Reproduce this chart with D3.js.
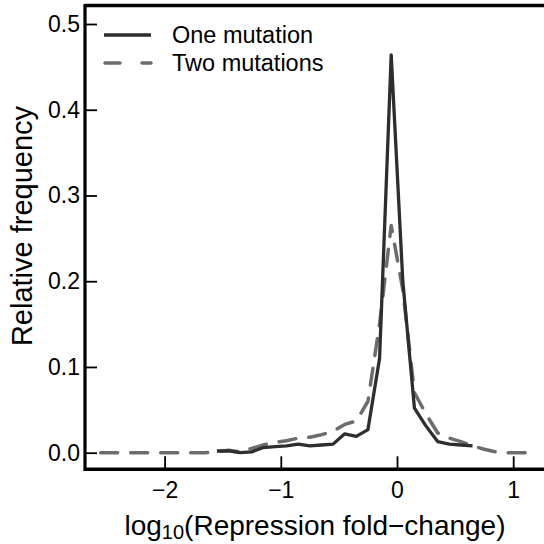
<!DOCTYPE html>
<html>
<head>
<meta charset="utf-8">
<script src="https://cdn.jsdelivr.net/npm/d3@7"></script>
<style>
  html, body { margin: 0; padding: 0; background: #fff; }
  svg { display: block; font-family: "Liberation Sans", Arial, Helvetica, sans-serif; }
</style>
</head>
<body>
<svg id="chart" width="544" height="544"></svg>
<script>
// Histogram bin centres (log10 fold-change) and relative frequencies
const binsOne = [-1.55, -1.45, -1.35, -1.25, -1.15, -1.05, -0.95, -0.85, -0.75, -0.65, -0.55,
                 -0.45, -0.35, -0.25, -0.15, -0.05, 0.05, 0.15, 0.25, 0.35, 0.45, 0.55, 0.65];
const freqOne = [0.002, 0.002, 0.000, 0.001, 0.006, 0.007, 0.008, 0.010, 0.008, 0.009, 0.010,
                 0.022, 0.019, 0.027, 0.110, 0.464, 0.200, 0.052, 0.031, 0.013, 0.010, 0.009, 0.008];

const binsTwo = [-2.55, -2.45, -2.35, -2.25, -2.15, -2.05, -1.95, -1.85, -1.75, -1.65,
                 -1.55, -1.45, -1.35, -1.25, -1.15, -1.05, -0.95, -0.85, -0.75, -0.65, -0.55,
                 -0.45, -0.35, -0.25, -0.15, -0.05, 0.05, 0.15, 0.25, 0.35, 0.45, 0.55, 0.65,
                 0.75, 0.85, 0.95, 1.05, 1.15];
const freqTwo = [0, 0, 0, 0, 0, 0, 0, 0, 0, 0,
                 0.001, 0.003, 0.001, 0.005, 0.009, 0.012, 0.014, 0.017, 0.018, 0.021, 0.025,
                 0.033, 0.037, 0.060, 0.150, 0.265, 0.190, 0.070, 0.045, 0.023, 0.017, 0.013, 0.008,
                 0.004, 0.001, 0, 0, 0];

const xTicks = [-2, -1, 0, 1];
const yTicks = [0.0, 0.1, 0.2, 0.3, 0.4, 0.5];
const seriesNames = ["One mutation", "Two mutations"];

const svg = d3.select("#chart");

const x = d3.scaleLinear().domain([0, 1]).range([397, 513.2]);
const y = d3.scaleLinear().domain([0, 0.5]).range([452.7, 24]);

const frameLeft = 85, frameTop = 5.5, frameBottom = 469.3, frameRight = 544;

// frame: left, top and bottom edges
svg.append("line").attr("x1", frameLeft).attr("x2", frameLeft)
  .attr("y1", frameTop - 1.6).attr("y2", frameBottom + 1.6)
  .attr("stroke", "#000").attr("stroke-width", 3.2);
svg.append("line").attr("x1", frameLeft).attr("x2", frameRight).attr("y1", frameTop).attr("y2", frameTop)
  .attr("stroke", "#000").attr("stroke-width", 3.4);
svg.append("line").attr("x1", frameLeft).attr("x2", frameRight).attr("y1", frameBottom).attr("y2", frameBottom)
  .attr("stroke", "#000").attr("stroke-width", 3.4);

// x axis (ticks point inward)
const xAxis = d3.axisBottom(x).tickValues(xTicks).tickSizeInner(-13).tickSizeOuter(0)
  .tickPadding(12).tickFormat(d => d < 0 ? "\u2212" + Math.abs(d) : String(d));
const gx = svg.append("g").attr("transform", `translate(0,${frameBottom})`).call(xAxis);
gx.select(".domain").remove();
gx.selectAll(".tick line").attr("stroke", "#000").attr("stroke-width", 1.8);
gx.selectAll(".tick text").attr("font-size", 23).attr("fill", "#000")
  .attr("font-family", "Liberation Sans, Arial, sans-serif");

// y axis (ticks point inward)
const yAxis = d3.axisLeft(y).tickValues(yTicks).tickSizeInner(-12).tickSizeOuter(0)
  .tickPadding(5).tickFormat(d3.format(".1f"));
const gy = svg.append("g").attr("transform", `translate(${frameLeft},0)`).call(yAxis);
gy.select(".domain").remove();
gy.selectAll(".tick line").attr("stroke", "#000").attr("stroke-width", 1.8);
gy.selectAll(".tick text").attr("font-size", 23).attr("fill", "#000")
  .attr("font-family", "Liberation Sans, Arial, sans-serif");

// series lines
const line = d3.line().x(d => x(d[0])).y(d => y(d[1]));
const ptsOne = binsOne.map((b, i) => [b, freqOne[i]]);
const ptsTwo = binsTwo.map((b, i) => [b, freqTwo[i]]);

svg.append("path").datum(ptsTwo).attr("d", line)
  .attr("fill", "none").attr("stroke", "#6c6c6c").attr("stroke-width", 3.5)
  .attr("stroke-dasharray", "17,13").attr("stroke-linecap", "round").attr("stroke-linejoin", "round");
svg.append("path").datum(ptsOne).attr("d", line)
  .attr("fill", "none").attr("stroke", "#2e2e2e").attr("stroke-width", 3.3)
  .attr("stroke-linejoin", "round");

// legend
const legend = svg.append("g");
legend.append("line").attr("x1", 104).attr("x2", 151).attr("y1", 35).attr("y2", 35)
  .attr("stroke", "#2e2e2e").attr("stroke-width", 3.3);
legend.append("line").attr("x1", 105).attr("x2", 151).attr("y1", 63).attr("y2", 63)
  .attr("stroke", "#6c6c6c").attr("stroke-width", 3.5)
  .attr("stroke-dasharray", "15,22").attr("stroke-linecap", "round");
legend.selectAll("text").data(seriesNames).join("text")
  .attr("x", 172).attr("y", (d, i) => 35 + i * 28).attr("dy", "0.35em")
  .attr("font-size", 23.5).attr("fill", "#000").text(d => d);

// axis titles
const xt = svg.append("text").attr("x", 315).attr("y", 535).attr("text-anchor", "middle")
  .attr("font-size", 28).attr("fill", "#000");
xt.append("tspan").text("log");
xt.append("tspan").attr("font-size", 20).attr("dy", 4).text("10");
xt.append("tspan").attr("dy", -4).text("(Repression fold\u2212change)");

svg.append("text").attr("transform", "translate(32,226) rotate(-90)")
  .attr("text-anchor", "middle").attr("font-size", 29).attr("fill", "#000")
  .text("Relative frequency");
</script>
</body>
</html>
